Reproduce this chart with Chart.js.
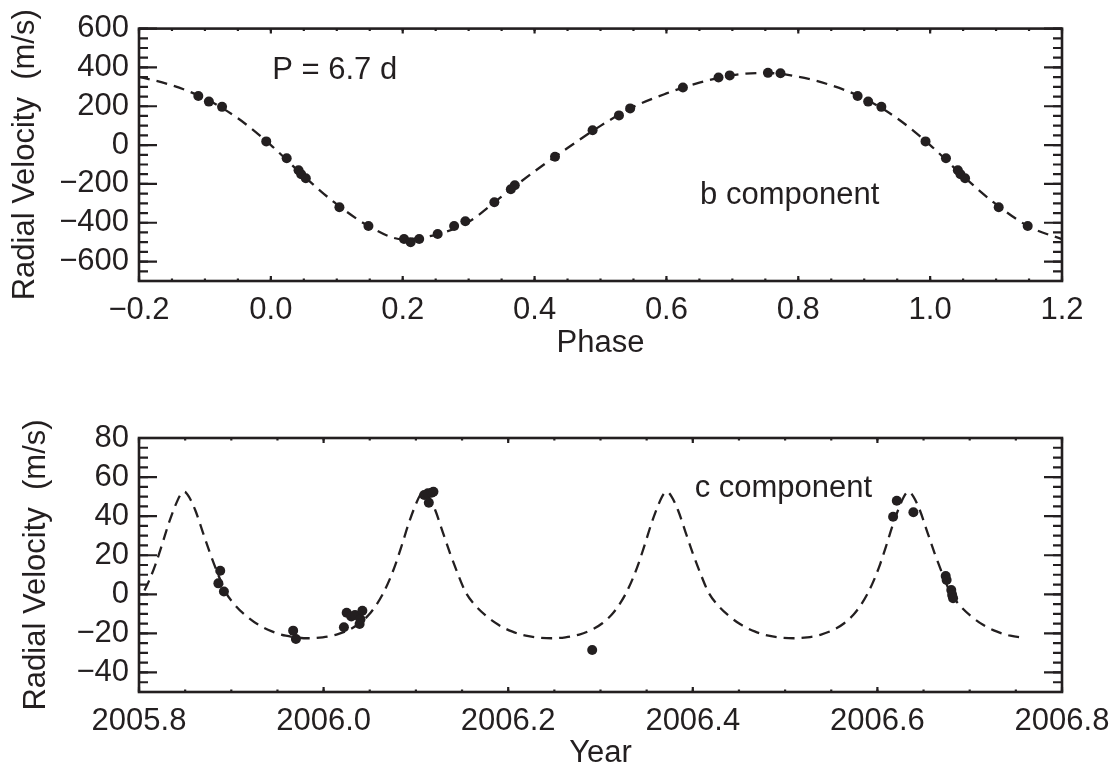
<!DOCTYPE html>
<html>
<head>
<meta charset="utf-8">
<script src="https://cdn.jsdelivr.net/npm/chart.js@4.4.1/dist/chart.umd.min.js"></script>
<style>
  html, body { margin: 0; padding: 0; background: #fff; }
  body { width: 1112px; height: 769px; position: relative; overflow: hidden; }
  canvas { position: absolute; left: 0; }
  #topChart { top: 0; }
  #bottomChart { top: 400px; }
</style>
</head>
<body>
<canvas id="topChart" width="1112" height="370"></canvas>
<canvas id="bottomChart" width="1112" height="369"></canvas>
<script>
var ink = "#231f20";
var fontFamily = "'Liberation Sans', Arial, Helvetica, sans-serif";

// ---- top panel: b component, folded on P = 6.7 d
var phaseB = [-0.110, -0.094, -0.074, -0.007, 0.024, 0.042, 0.046, 0.053, 0.104, 0.148,
              0.202, 0.212, 0.225, 0.253, 0.278, 0.295, 0.339, 0.364, 0.370, 0.431,
              0.488, 0.528, 0.545, 0.625, 0.679, 0.696, 0.754, 0.773,
              0.890, 0.906, 0.926, 0.993, 1.024, 1.042, 1.046, 1.053, 1.104, 1.148];
var rvB = [253, 224, 197, 19, -68, -130, -150, -171, -320, -417,
           -484, -500, -484, -458, -417, -392, -294, -227, -207, -60,
           76, 153, 189, 297, 348, 359, 372, 370,
           253, 224, 197, 19, -68, -130, -150, -171, -320, -417];

// dashed orbit curve, every 0.05 in phase
var curvePhaseB = [-0.20, -0.15, -0.10, -0.05, 0.00, 0.05, 0.10, 0.15, 0.20, 0.25,
                   0.30, 0.35, 0.40, 0.45, 0.50, 0.55, 0.60, 0.65, 0.70, 0.75,
                   0.80, 0.85, 0.90, 0.95, 1.00, 1.05, 1.10, 1.15, 1.20];
var curveRvB = [352, 308, 240, 138, 0, -160, -305, -420, -485, -462,
                -395, -265, -135, -15, 99, 197, 266, 322, 360, 372,
                352, 308, 240, 138, 0, -160, -305, -420, -485];

var phaseTicks = [-0.2, 0.0, 0.2, 0.4, 0.6, 0.8, 1.0, 1.2];
var rvTicksB = [-600, -400, -200, 0, 200, 400, 600];

// ---- bottom panel: c component vs time
var yearC = [2005.886, 2005.888, 2005.892, 2005.967, 2005.970,
             2006.022, 2006.025, 2006.030, 2006.034, 2006.039, 2006.040, 2006.042,
             2006.109, 2006.113, 2006.114, 2006.117, 2006.119,
             2006.291,
             2006.617, 2006.621, 2006.639,
             2006.674, 2006.675, 2006.680, 2006.681, 2006.682];
var rvC = [5.6, 12.1, 1.4, -18.6, -22.9,
           -16.9, -9.4, -11.4, -10.6, -15.2, -12.8, -8.4,
           50.8, 51.7, 46.9, 52.0, 52.5,
           -28.5,
           39.7, 47.9, 42.0,
           9.4, 7.3, 2.2, -0.3, -2.0];

// dashed orbit curve for c (denser near the peaks)
var curveYearC = [
    2005.806, 2005.811, 2005.818, 2005.825, 2005.832, 2005.839, 2005.845, 2005.849,
    2005.854, 2005.861, 2005.869, 2005.877, 2005.885, 2005.894, 2005.904, 2005.916,
    2005.929, 2005.944, 2005.959,
    2005.984, 2005.999, 2006.014, 2006.029, 2006.039, 2006.049, 2006.057, 2006.064,
    2006.071, 2006.078, 2006.085, 2006.092, 2006.099, 2006.105, 2006.109,
    2006.114, 2006.121, 2006.129, 2006.137, 2006.145, 2006.154, 2006.164, 2006.176,
    2006.189, 2006.204, 2006.219,
    2006.247, 2006.262, 2006.277, 2006.292, 2006.302, 2006.312, 2006.320, 2006.327,
    2006.334, 2006.341, 2006.348, 2006.355, 2006.362, 2006.368, 2006.372,
    2006.377, 2006.384, 2006.392, 2006.400, 2006.408, 2006.417, 2006.427, 2006.439,
    2006.452, 2006.467, 2006.482,
    2006.509, 2006.524, 2006.539, 2006.554, 2006.564, 2006.574, 2006.582, 2006.589,
    2006.596, 2006.603, 2006.610, 2006.617, 2006.624, 2006.630, 2006.634,
    2006.639, 2006.646, 2006.654, 2006.662, 2006.670, 2006.679, 2006.689, 2006.701,
    2006.714, 2006.729, 2006.744, 2006.761];
var curveRvC = [
    2, 7, 15.5, 25.5, 36, 45, 51, 52.5,
    50, 43, 32, 21, 11, 1, -5.5, -11,
    -15.5, -19, -21.2,
    -22.5, -22.0, -20.6, -17.8, -14.8, -10.5, -5.5, 0,
    7, 15.5, 25.5, 36, 45, 51, 52.5,
    50, 43, 32, 21, 11, 1, -5.5, -11,
    -15.5, -19, -21.2,
    -22.5, -22.0, -20.6, -17.8, -14.8, -10.5, -5.5, 0,
    7, 15.5, 25.5, 36, 45, 51, 52.5,
    50, 43, 32, 21, 11, 1, -5.5, -11,
    -15.5, -19, -21.2,
    -22.5, -22.0, -20.6, -17.8, -14.8, -10.5, -5.5, 0,
    7, 15.5, 25.5, 36, 45, 51, 52.5,
    50, 43, 32, 21, 11, 1, -5.5, -11,
    -15.5, -19, -21.2, -22.3];

var yearTicks = [2005.8, 2006.0, 2006.2, 2006.4, 2006.6, 2006.8];
var rvTicksC = [-40, -20, 0, 20, 40, 60, 80];


function pairs(xs, ys) {
    return xs.map(function (x, i) { return { x: x, y: ys[i] }; });
}

function steps(min, max, step) {
    var out = [];
    var n = Math.round((max - min) / step);
    for (var i = 0; i <= n; i++) out.push(min + i * step);
    return out;
}

function minus(s) {
    return s.replace("-", "\u2212");
}

// IDL style box: frame plus inward ticks on all four sides
function drawTicks(ctx, scale, values, area, len) {
    values.forEach(function (v) {
        var p = scale.getPixelForValue(v);
        ctx.beginPath();
        if (scale.isHorizontal()) {
            ctx.moveTo(p, area.bottom); ctx.lineTo(p, area.bottom - len);
            ctx.moveTo(p, area.top); ctx.lineTo(p, area.top + len);
        } else {
            ctx.moveTo(area.left, p); ctx.lineTo(area.left + len, p);
            ctx.moveTo(area.right, p); ctx.lineTo(area.right - len, p);
        }
        ctx.stroke();
    });
}

var idlBox = {
    id: "idlBox",
    afterDatasetsDraw: function (chart, args, opts) {
        var ctx = chart.ctx, a = chart.chartArea;
        var xs = chart.scales.x, ys = chart.scales.y;
        ctx.save();
        ctx.strokeStyle = ink;
        ctx.lineWidth = 2.2;
        drawTicks(ctx, xs, steps(xs.min, xs.max, opts.xMinor), a, 2.5);
        drawTicks(ctx, ys, steps(ys.min, ys.max, opts.yMinor), a, 9);
        drawTicks(ctx, xs, opts.xMajor, a, 5);
        drawTicks(ctx, ys, opts.yMajor, a, 18);
        ctx.lineWidth = 2.6;
        ctx.strokeRect(a.left, a.top, a.right - a.left, a.bottom - a.top);

        ctx.fillStyle = ink;
        ctx.font = "31px " + fontFamily;
        ctx.textBaseline = "alphabetic";
        ctx.textAlign = "left";
        opts.notes.forEach(function (n) {
            ctx.fillText(n.text, xs.getPixelForValue(n.x), ys.getPixelForValue(n.y));
        });
        ctx.restore();
    }
};

function makeChart(id, cfg) {
    var tickFont = { family: fontFamily, size: 31 };
    var titleFont = { family: fontFamily, size: 31, lineHeight: 1 };
    return new Chart(document.getElementById(id).getContext("2d"), {
        type: "scatter",
        data: {
            datasets: [{
                data: cfg.points,
                backgroundColor: ink,
                borderWidth: 0,
                pointRadius: 5,
                pointHoverRadius: 5
            }, {
                type: "line",
                data: cfg.curve,
                borderColor: ink,
                borderWidth: 2.3,
                borderDash: [11, 7],
                pointRadius: 0,
                fill: false,
                cubicInterpolationMode: "monotone"
            }]
        },
        options: {
            responsive: false,
            animation: false,
            devicePixelRatio: 1,
            events: [],
            layout: { padding: { top: cfg.padTop, right: 50, left: 0, bottom: 0 } },
            plugins: {
                legend: { display: false },
                tooltip: { enabled: false },
                idlBox: {
                    xMinor: 0.05, yMinor: cfg.yMinor,
                    xMajor: cfg.xTicks, yMajor: cfg.yTicks,
                    notes: cfg.notes
                }
            },
            scales: {
                x: {
                    type: "linear",
                    min: cfg.xMin, max: cfg.xMax,
                    grid: { display: false, drawTicks: false },
                    border: { display: false },
                    afterBuildTicks: function (s) { s.ticks = cfg.xTicks.map(function (v) { return { value: v }; }); },
                    afterFit: function (s) {
                        s.height = cfg.xAxisHeight;
                        // keep the plot box where the figure has it, labels may overhang
                        s.paddingLeft = 0;
                        s.paddingRight = 0;
                    },
                    ticks: {
                        color: ink, font: tickFont, padding: 11, maxRotation: 0,
                        callback: function (v) { return minus(v.toFixed(1)); }
                    },
                    title: { display: true, text: cfg.xTitle, color: ink, font: titleFont,
                             padding: { top: 0, bottom: cfg.xTitlePad } }
                },
                y: {
                    min: cfg.yMin, max: cfg.yMax,
                    grid: { display: false, drawTicks: false },
                    border: { display: false },
                    afterBuildTicks: function (s) { s.ticks = cfg.yTicks.map(function (v) { return { value: v }; }); },
                    afterFit: function (s) { s.width = 139; },
                    ticks: {
                        color: ink, font: tickFont, padding: 10,
                        callback: function (v) { return minus(String(v)); }
                    },
                    title: { display: true, text: "Radial Velocity\u00a0\u00a0(m/s)", color: ink, font: titleFont,
                             padding: { top: cfg.yTitlePad, bottom: 0 } }
                }
            }
        },
        plugins: [idlBox]
    });
}

window.addEventListener("load", function () {
    makeChart("topChart", {
        points: pairs(phaseB, rvB),
        curve: pairs(curvePhaseB, curveRvB),
        xMin: -0.2, xMax: 1.2, yMin: -700, yMax: 600,
        xTicks: phaseTicks, yTicks: rvTicksB, yMinor: 50,
        xTitle: "Phase", padTop: 28, xAxisHeight: 89, xTitlePad: 11, yTitlePad: 10,
        notes: [{ text: "P = 6.7 d", x: 0.002, y: 338 }, { text: "b component", x: 0.651, y: -304 }]
    });
    makeChart("bottomChart", {
        points: pairs(yearC, rvC),
        curve: pairs(curveYearC, curveRvC),
        xMin: 2005.8, xMax: 2006.8, yMin: -50, yMax: 80,
        xTicks: yearTicks, yTicks: rvTicksC, yMinor: 5,
        xTitle: "Year", padTop: 38, xAxisHeight: 77, xTitlePad: 0, yTitlePad: 21,
        notes: [{ text: "c component", x: 2006.402, y: 49.7 }]
    });
});
</script>
</body>
</html>
